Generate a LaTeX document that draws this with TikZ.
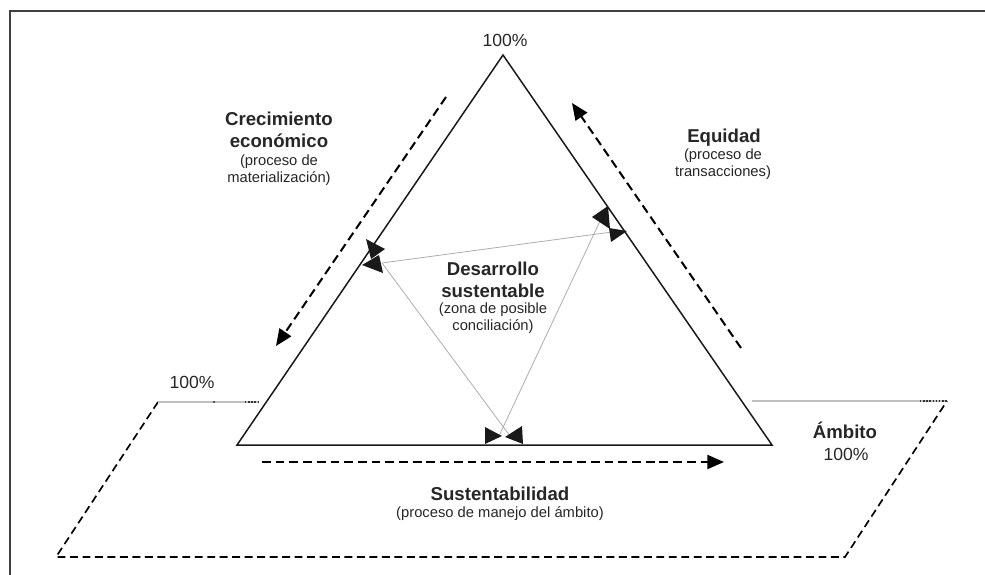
\documentclass[tikz,border=0pt]{standalone}
\usepackage{fontspec}
\setmainfont{Liberation Sans}
\usetikzlibrary{arrows.meta,positioning}

\begin{document}
\begin{tikzpicture}[x=0.02cm, y=-0.02cm,
  side/.style={line width=0.85pt, black!90},
  flow/.style={line width=1.15pt, dash pattern=on 5pt off 2.8pt,
    -{Triangle[length=9.5pt,width=8pt]}},
  ground/.style={line width=0.95pt, dash pattern=on 4.5pt off 2.6pt},
  rim/.style={gray!50, line width=0.7pt},
  link/.style={gray!65, line width=0.45pt},
  tipmark/.style={fill=black!90},
  every node/.style={inner sep=0pt, align=center, text=black!85},
  title/.style={font=\bfseries\fontsize{10.6}{12.5}\selectfont},
  note/.style={font=\fontsize{8.4}{9.6}\selectfont},
  pct/.style={font=\fontsize{10}{12}\selectfont}]
  \useasboundingbox (0,0) rectangle (985,575);
  % page frame
  \draw[line width=0.8pt, black!75] (10,575) -- (10,11) -- (985,11);

  % main triangle
  \coordinate (top) at (503,55);
  \coordinate (left) at (237,445);
  \coordinate (right) at (772,445);
  \draw[side] (top) -- (right) -- (left) -- cycle;

  % ambito plane
  \coordinate (a1) at (158,402);
  \coordinate (a2) at (56,557);
  \coordinate (a3) at (845,557);
  \coordinate (a4) at (947,401);
  \coordinate (r1) at (259,402);
  \coordinate (r2) at (752,401);
  \draw[ground] (a1) -- (a2) -- (a3) -- (a4);
  \draw[rim] (a1) -- (r1);
  \draw[rim] (r2) -- (a4);
  \draw[black!80, densely dotted, line width=0.8pt] (245,402) -- (r1);
  \draw[black!80, densely dotted, line width=0.8pt] (920,401) -- (a4);
  \fill[black!80] (214,402) circle (0.6pt);

  % processes
  \coordinate (c1) at (446,97);
  \coordinate (c2) at (276,346);
  \coordinate (e1) at (741,348);
  \coordinate (e2) at (572,103);
  \coordinate (s1) at (262,462);
  \coordinate (s2) at (724,462);
  \draw[flow] (c1) -- (c2);
  \draw[flow] (e1) -- (e2);
  \draw[flow] (s1) -- (s2);

  % zona de conciliacion
  \coordinate (pl) at (382,263);
  \coordinate (pr) at (612,232);
  \coordinate (pt) at (601,219);
  \coordinate (pb1) at (498,438);
  \coordinate (pb2) at (513,440);
  \draw[link] (pl) -- (pr);
  \draw[link] (pl) -- (pb2);
  \draw[link] (pt) -- (pb1);
  \fill[tipmark] (366,239) -- (385,249) -- (371,259) -- cycle;
  \fill[tipmark] (362,265) -- (379,255) -- (383,273) -- cycle;
  \fill[tipmark] (592,217) -- (608,206) -- (610,229) -- cycle;
  \fill[tipmark] (609,228) -- (611,242) -- (627,231) -- cycle;
  \fill[tipmark] (485,427) -- (485,444) -- (502,436) -- cycle;
  \fill[tipmark] (522,426) -- (523,444) -- (505,437) -- cycle;

  % labels
  \node[pct, anchor=base] (ptop) at (505,46) {100\%};
  \node[pct, anchor=base] (pleft) at (192,388) {100\%};
  \node[title, anchor=base] (crec) at (279,147) {Crecimiento\\económico};
  \node[note, anchor=base] (crecsub) at (279,182) {(proceso de\\materialización)};
  \node[title, anchor=base] (equi) at (724,142) {Equidad};
  \node[note, anchor=base] (equisub) at (723,176) {(proceso de\\transacciones)};
  \node[title, anchor=base] (desa) at (493,297) {Desarrollo\\sustentable};
  \node[note, anchor=base] (desasub) at (493,330) {(zona de posible\\conciliación)};
  \node[title, anchor=base] (sust) at (500,500) {Sustentabilidad};
  \node[note, anchor=base] (sustsub) at (500,517) {(proceso de manejo del ámbito)};
  \node[title, anchor=base] (ambi) at (845,438) {Ámbito};
  \node[pct, anchor=base] (pambi) at (846,460) {100\%};
\end{tikzpicture}
\end{document}
